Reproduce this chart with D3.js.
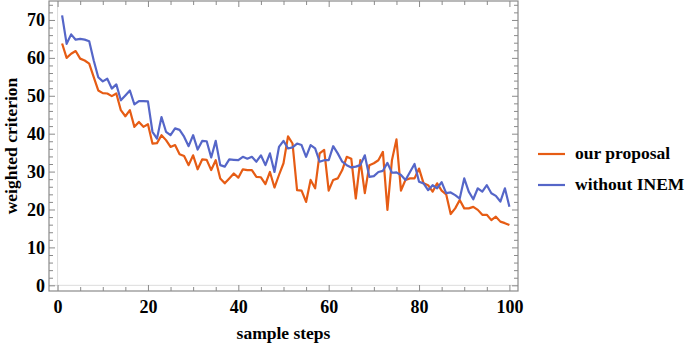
<!DOCTYPE html>
<html>
<head>
<meta charset="utf-8">
<script src="https://cdn.jsdelivr.net/npm/d3@7"></script>
<style>
  body { margin: 0; background: #fff; }
  svg text { font-family: "Liberation Serif", "DejaVu Serif", serif; font-weight: bold; fill: #000; }
</style>
</head>
<body>
<svg id="chart"></svg>
<script>
const seriesNames = ["our proposal", "without INEM"];
const seriesColors = ["#e65c14", "#5566c8"];

const ourProposal = [
  63.8, 60.0, 61.1, 61.8, 59.8, 59.3, 58.5, 54.9, 51.4, 50.7,
  50.6, 49.9, 50.6, 46.2, 44.6, 46.2, 41.8, 43.1, 41.8, 42.5,
  37.4, 37.5, 39.6, 38.3, 36.5, 37.0, 34.6, 34.1, 31.7, 34.3,
  30.6, 33.2, 33.1, 30.4, 33.0, 28.2, 26.9, 28.2, 29.5, 28.4,
  30.6, 30.4, 30.4, 28.6, 28.5, 26.7, 29.9, 25.8, 29.1, 32.2,
  39.3, 37.4, 25.1, 25.0, 22.0, 27.8, 25.6, 34.8, 35.7, 25.0,
  27.8, 28.2, 30.4, 33.9, 33.4, 22.9, 33.0, 24.3, 31.7, 32.2,
  33.0, 35.2, 19.9, 33.0, 38.5, 25.0, 27.8, 28.2, 28.2, 30.8,
  26.9, 26.4, 24.7, 26.9, 25.0, 24.0, 18.8, 20.3, 22.5, 20.3,
  20.3, 20.7, 19.9, 18.6, 18.6, 17.2, 18.1, 16.8, 16.4, 15.9
];

const withoutINEM = [
  71.2, 63.7, 66.2, 64.8, 65.0, 64.8, 64.4, 59.3, 54.9, 53.8,
  54.5, 51.9, 53.0, 48.8, 50.1, 51.4, 47.7, 48.6, 48.6, 48.5,
  40.5, 38.7, 44.4, 40.5, 39.6, 41.4, 41.0, 39.2, 36.7, 39.6,
  35.8, 38.1, 38.0, 33.7, 38.1, 31.7, 31.3, 33.2, 33.1, 33.0,
  33.9, 33.4, 33.9, 32.6, 34.3, 31.7, 34.8, 29.9, 36.5, 38.1,
  36.1, 36.4, 37.4, 37.0, 33.9, 37.0, 36.1, 32.6, 33.0, 33.0,
  36.7, 34.8, 32.6, 31.7, 31.1, 31.3, 31.7, 34.3, 28.6, 28.8,
  29.9, 30.2, 32.3, 29.7, 29.8, 29.1, 27.8, 29.9, 32.0, 27.3,
  26.9, 25.1, 26.4, 25.6, 27.2, 24.3, 24.5, 23.8, 22.9, 28.2,
  24.7, 22.7, 25.6, 24.7, 26.4, 24.3, 23.6, 22.1, 25.6, 20.7
];

const xTicks = [0, 20, 40, 60, 80, 100];
const yTicks = [0, 10, 20, 30, 40, 50, 60, 70];

const width = 685, height = 344;
const plotLeft = 49, plotRight = 518, plotTop = 1, plotBottom = 291;

const svg = d3.select("#chart").attr("width", width).attr("height", height);

const x = d3.scaleLinear().domain([-1.9, 101.9]).range([plotLeft, plotRight]);
const y = d3.scaleLinear().domain([-1.5, 75]).range([plotBottom, plotTop]);

// light gridlines at zero
svg.append("line")
  .attr("x1", x(0)).attr("x2", x(0)).attr("y1", plotTop).attr("y2", plotBottom)
  .attr("stroke", "#dcdcdc").attr("stroke-width", 1);
svg.append("line")
  .attr("x1", plotLeft).attr("x2", plotRight).attr("y1", y(0)).attr("y2", y(0))
  .attr("stroke", "#dcdcdc").attr("stroke-width", 1);

const xMinor = d3.range(0, 101, 5).filter(v => v % 20 !== 0);
const yMinor = d3.range(0, 75, 2).filter(v => v % 10 !== 0);

function styleAxis(g) {
  g.select(".domain").remove();
  g.selectAll(".tick line").attr("stroke", "#8a8a8a").attr("stroke-width", 1);
  g.selectAll(".tick text").attr("font-size", 18).attr("fill", "#000")
    .attr("font-family", "Liberation Serif, serif").attr("font-weight", "bold");
}

// bottom
svg.append("g").attr("transform", `translate(0,${plotBottom})`)
  .call(d3.axisBottom(x).tickValues(xTicks).tickSizeInner(-6).tickSizeOuter(0).tickPadding(9))
  .call(styleAxis);
svg.append("g").attr("transform", `translate(0,${plotBottom})`)
  .call(d3.axisBottom(x).tickValues(xMinor).tickSizeInner(-4).tickSizeOuter(0).tickFormat(""))
  .call(styleAxis);
// top
svg.append("g").attr("transform", `translate(0,${plotTop})`)
  .call(d3.axisTop(x).tickValues(xTicks).tickSizeInner(-6).tickSizeOuter(0).tickFormat(""))
  .call(styleAxis);
svg.append("g").attr("transform", `translate(0,${plotTop})`)
  .call(d3.axisTop(x).tickValues(xMinor).tickSizeInner(-4).tickSizeOuter(0).tickFormat(""))
  .call(styleAxis);
// left
svg.append("g").attr("transform", `translate(${plotLeft},0)`)
  .call(d3.axisLeft(y).tickValues(yTicks).tickSizeInner(-6).tickSizeOuter(0).tickPadding(4))
  .call(styleAxis);
svg.append("g").attr("transform", `translate(${plotLeft},0)`)
  .call(d3.axisLeft(y).tickValues(yMinor).tickSizeInner(-4).tickSizeOuter(0).tickFormat(""))
  .call(styleAxis);
// right
svg.append("g").attr("transform", `translate(${plotRight},0)`)
  .call(d3.axisRight(y).tickValues(yTicks).tickSizeInner(-6).tickSizeOuter(0).tickFormat(""))
  .call(styleAxis);
svg.append("g").attr("transform", `translate(${plotRight},0)`)
  .call(d3.axisRight(y).tickValues(yMinor).tickSizeInner(-4).tickSizeOuter(0).tickFormat(""))
  .call(styleAxis);

// frame
svg.append("rect")
  .attr("x", plotLeft).attr("y", plotTop)
  .attr("width", plotRight - plotLeft).attr("height", plotBottom - plotTop)
  .attr("fill", "none").attr("stroke", "#8a8a8a").attr("stroke-width", 1.2);

// lines
const line = d3.line()
  .x((d, i) => x(i + 1))
  .y(d => y(d));

[ourProposal, withoutINEM].forEach((values, k) => {
  svg.append("path")
    .datum(values)
    .attr("fill", "none")
    .attr("stroke", seriesColors[k])
    .attr("stroke-width", 2.2)
    .attr("stroke-linejoin", "round")
    .attr("d", line);
});

// axis titles
svg.append("text")
  .attr("x", (plotLeft + plotRight) / 2).attr("y", 339)
  .attr("text-anchor", "middle").attr("font-size", 17.5)
  .text("sample steps");

svg.append("text")
  .attr("transform", `translate(17,${(plotTop + plotBottom) / 2}) rotate(-90)`)
  .attr("text-anchor", "middle").attr("font-size", 17.5)
  .text("weighted criterion");

// legend
const legend = svg.append("g");
seriesNames.forEach((name, k) => {
  const ly = 154 + k * 31;
  legend.append("line")
    .attr("x1", 538).attr("x2", 565).attr("y1", ly).attr("y2", ly)
    .attr("stroke", seriesColors[k]).attr("stroke-width", 2.2);
  legend.append("text")
    .attr("x", 575).attr("y", ly + 5)
    .attr("font-size", 17.5)
    .text(name);
});
</script>
</body>
</html>
